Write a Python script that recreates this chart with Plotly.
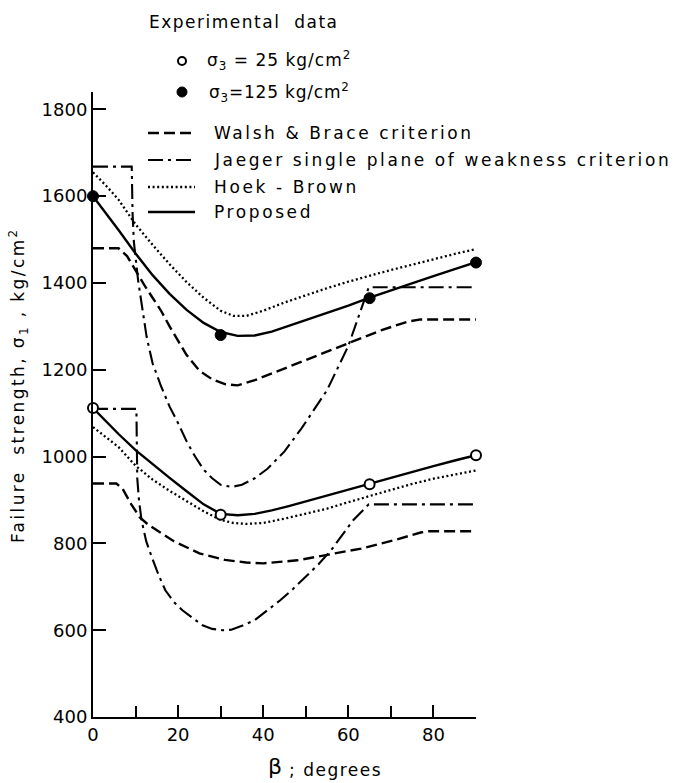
import plotly.graph_objects as go

# ---------------- data ----------------
# Proposed criterion
beta_prop_125 = [0, 3, 6, 10, 14, 18, 22, 26, 30, 34, 38, 42, 46, 50, 55, 60, 65, 70, 75, 80, 85, 90]
sig_prop_125 = [1600, 1562, 1522, 1468, 1418, 1375, 1338, 1308, 1287, 1278, 1279, 1288, 1301, 1315,
                1332, 1348, 1366, 1383, 1400, 1416, 1432, 1448]
beta_prop_25 = [0, 3, 6, 10, 14, 18, 22, 26, 30, 34, 38, 42, 46, 50, 55, 60, 65, 70, 75, 80, 85, 90]
sig_prop_25 = [1112, 1082, 1052, 1015, 982, 951, 920, 890, 868, 865, 868, 876, 886, 897,
               910, 924, 938, 951, 965, 978, 991, 1003]

# Hoek - Brown
beta_hb_125 = [0, 3, 6, 10, 14, 18, 22, 26, 30, 33, 36, 40, 45, 50, 55, 60, 65, 70, 75, 80, 85, 90]
sig_hb_125 = [1655, 1625, 1592, 1535, 1488, 1443, 1402, 1366, 1336, 1324, 1324, 1336, 1355, 1372,
              1388, 1403, 1417, 1430, 1442, 1455, 1467, 1478]
beta_hb_25 = [0, 3, 6, 10, 14, 18, 22, 26, 30, 33, 36, 40, 45, 50, 55, 60, 65, 70, 75, 80, 85, 90]
sig_hb_25 = [1068, 1045, 1022, 979, 947, 921, 897, 874, 854, 847, 845, 847, 857, 868,
             880, 895, 909, 923, 937, 949, 959, 968]

# Walsh & Brace
beta_wb_125 = [0, 6, 8, 10, 12, 14, 16, 18, 20, 22, 25, 28, 31, 34, 38, 44, 52, 60, 68, 74, 77, 90]
sig_wb_125 = [1480, 1480, 1462, 1428, 1396, 1366, 1336, 1300, 1266, 1234, 1198, 1178, 1167, 1164,
              1176, 1199, 1230, 1260, 1292, 1311, 1316, 1316]
beta_wb_25 = [0, 5.5, 7, 9, 11, 13, 15, 19, 25, 31, 36, 40, 48, 55, 63, 71, 77, 79, 90]
sig_wb_25 = [938, 938, 925, 890, 860, 843, 830, 805, 777, 762, 756, 754, 761, 773, 788, 808, 825, 828, 828]

# Jaeger single plane of weakness
beta_j_125 = [0, 9.1, 9.3, 9.6, 10.6, 11.6, 12.6, 14, 16, 18, 20, 22, 24, 26, 28, 30, 32.5, 35, 38,
              41, 45, 49, 55, 60, 64.8, 90]
sig_j_125 = [1668, 1668, 1560, 1495, 1406, 1335, 1276, 1215, 1162, 1115, 1077, 1035, 1000, 970, 950,
             935, 930, 935, 950, 972, 1012, 1065, 1153, 1255, 1390, 1390]
beta_j_25 = [0, 10.2, 10.4, 10.8, 11.4, 12.5, 13.8, 15.5, 17, 19, 21, 23.5, 25.6, 28, 30.5, 32.5, 35,
             38, 41, 44, 47, 50, 53, 56, 59, 61.2, 64.8, 90]
sig_j_25 = [1110, 1110, 950, 900, 854, 805, 769, 725, 692, 665, 646, 627, 612, 603, 600, 601, 610,
            623, 645, 669, 695, 723, 752, 785, 825, 854, 890, 890]

# Experimental data
beta_exp_25 = [0, 30, 65, 90]
sig_exp_25 = [1112, 866, 936, 1003]
beta_exp_125 = [0, 30, 65, 90]
sig_exp_125 = [1600, 1280, 1365, 1447]

x_major_ticks = [0, 20, 40, 60, 80]
x_tick_text = ["0", "20", "40", "60", "80"]
x_minor_ticks = [10, 30, 50, 70, 90]
y_ticks = [400, 600, 800, 1000, 1200, 1400, 1600, 1800]
y_tick_text = ["400", "600", "800", "1000", "1200", "1400", "1600", "1800"]

# ---------------- styles ----------------
FONT = "DejaVu Sans"
W, H = 690, 783
L, R, T, B = 93, 476, 92, 717

def xp(px):
    return (px - L) / (R - L)

def yp(py):
    return (B - py) / (B - T)

DASH_WB = "11px,5px"
DASH_J = "15px,5px,3px,5px"
DASH_HB = "2px,2.6px"

fig = go.Figure()

curves = [
    (beta_wb_125, sig_wb_125, DASH_WB, 2.4),
    (beta_wb_25, sig_wb_25, DASH_WB, 2.4),
    (beta_j_125, sig_j_125, DASH_J, 2.1),
    (beta_j_25, sig_j_25, DASH_J, 2.1),
    (beta_hb_125, sig_hb_125, DASH_HB, 2.3),
    (beta_hb_25, sig_hb_25, DASH_HB, 2.3),
    (beta_prop_125, sig_prop_125, "solid", 2.4),
    (beta_prop_25, sig_prop_25, "solid", 2.4),
]
for xs, ys, dash, w in curves:
    fig.add_trace(go.Scatter(x=xs, y=ys, mode="lines",
                             line=dict(color="black", width=w, dash=dash),
                             showlegend=False, hoverinfo="skip", cliponaxis=False))

fig.add_trace(go.Scatter(x=beta_exp_125, y=sig_exp_125, mode="markers",
                         marker=dict(symbol="circle", size=11, color="black",
                                     line=dict(color="black", width=1)),
                         showlegend=False, hoverinfo="skip", cliponaxis=False))
fig.add_trace(go.Scatter(x=beta_exp_25, y=sig_exp_25, mode="markers",
                         marker=dict(symbol="circle", size=10, color="white",
                                     line=dict(color="black", width=2)),
                         showlegend=False, hoverinfo="skip", cliponaxis=False))

axis_common = dict(showline=True, linecolor="black", linewidth=2, ticks="inside",
                   tickcolor="black", tickwidth=2, showgrid=False, zeroline=False,
                   tickfont=dict(family=FONT, size=18, color="black"))
fig.update_layout(
    width=W, height=H,
    margin=dict(l=L, r=W - R, t=T, b=H - B, pad=0),
    plot_bgcolor="white", paper_bgcolor="white",
    showlegend=False,
    xaxis=dict(range=[0, 90], tickmode="array", tickvals=x_major_ticks, ticktext=x_tick_text,
               ticklen=12,
               minor=dict(tickmode="array", tickvals=x_minor_ticks, ticks="inside", ticklen=11,
                          tickwidth=2, tickcolor="black", showgrid=False),
               **axis_common),
    yaxis=dict(range=[400, 1840], tickmode="array", tickvals=y_ticks, ticktext=y_tick_text,
               ticklen=13, **axis_common),
)

def sp(text, ls):
    return '<span style="letter-spacing:%spx">%s</span>' % (ls, text)

annotations = []
def add_text(px, py, text, size=17, anchor="left", angle=0):
    annotations.append(dict(x=xp(px), y=yp(py), xref="paper", yref="paper", text=text,
                            showarrow=False, xanchor=anchor, yanchor="middle", textangle=angle,
                            font=dict(family=FONT, size=size, color="black")))

add_text(147, 22, sp("Experimental&nbsp; data", 1.5))
add_text(205, 61, sp("σ<sub>3</sub> = 25 kg/cm<sup>2</sup>", 1))
add_text(207, 92, sp("σ<sub>3</sub>=125 kg/cm<sup>2</sup>", 0.8))
add_text(212, 133, sp("Walsh &amp; Brace criterion", 2.6))
add_text(212, 160, sp("Jaeger single plane of weakness criterion", 2.6))
add_text(212, 187, sp("Hoek - Brown", 2.6))
add_text(212, 212, sp("Proposed", 2.6))
add_text(18, 385, sp("Failure&nbsp; strength, σ<sub>1</sub> , kg/cm<sup>2</sup>", 2.4), size=17,
         anchor="center", angle=-90)
add_text(266, 766, "β", size=22)
add_text(287, 770, sp("; degrees", 1.5), size=17)
fig.update_layout(annotations=annotations)

# legend keys
shapes = []
for py, dash, w in [(133, DASH_WB, 2.4), (160, DASH_J, 2.1), (187, DASH_HB, 2.3), (212, "solid", 2.4)]:
    shapes.append(dict(type="line", xref="paper", yref="paper", x0=xp(148), x1=xp(195),
                       y0=yp(py), y1=yp(py), line=dict(color="black", width=w, dash=dash)))
shapes.append(dict(type="circle", xref="paper", yref="paper", xsizemode="pixel", ysizemode="pixel",
                   xanchor=xp(182), yanchor=yp(61), x0=-4, x1=4, y0=-4, y1=4,
                   fillcolor="white", line=dict(color="black", width=2)))
shapes.append(dict(type="circle", xref="paper", yref="paper", xsizemode="pixel", ysizemode="pixel",
                   xanchor=xp(182), yanchor=yp(92), x0=-5, x1=5, y0=-5, y1=5,
                   fillcolor="black", line=dict(color="black", width=1)))
fig.update_layout(shapes=shapes)

fig.write_html("out.html")
